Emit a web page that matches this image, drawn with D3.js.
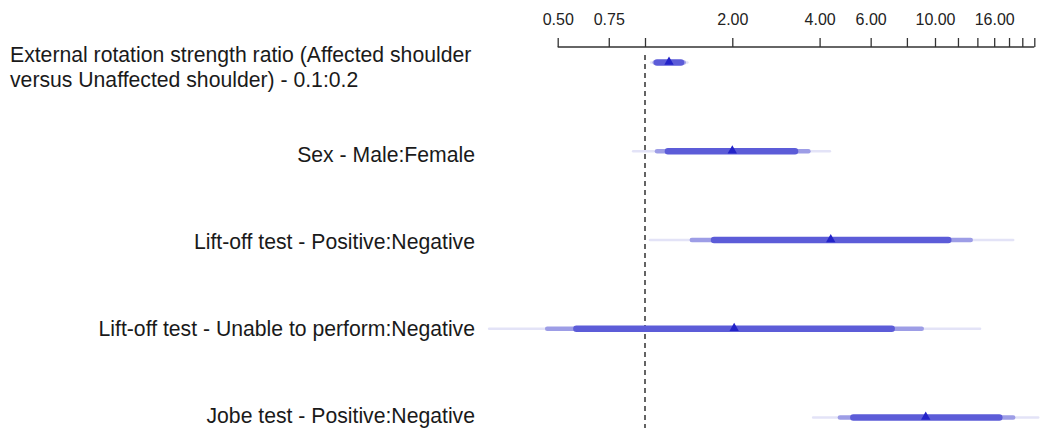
<!DOCTYPE html>
<html>
<head>
<meta charset="utf-8">
<script src="https://cdn.jsdelivr.net/npm/d3@7"></script>
<style>
  html, body { margin: 0; padding: 0; background: #fff; }
  svg { display: block; font-family: "Liberation Sans", Arial, Helvetica, sans-serif; }
</style>
</head>
<body>
<svg id="chart" width="1045" height="428"></svg>
<script>
// Effect estimates (odds ratios) with nested confidence intervals
const labels = [
  ["External rotation strength ratio (Affected shoulder", "versus Unaffected shoulder) - 0.1:0.2"],
  ["Sex - Male:Female"],
  ["Lift-off test - Positive:Negative"],
  ["Lift-off test - Unable to perform:Negative"],
  ["Jobe test - Positive:Negative"]
];
const estimate = [1.21, 2.00, 4.37, 2.03, 9.29];
const lower90 = [1.10, 1.20, 1.73, 0.58, 5.23];
const upper90 = [1.33, 3.29, 11.11, 7.09, 16.66];
const lower95 = [1.08, 1.10, 1.45, 0.46, 4.70];
const upper95 = [1.36, 3.66, 13.28, 9.00, 18.60];
const lower99 = [1.05, 0.91, 1.04, 0.29, 3.80];
const upper99 = [1.40, 4.34, 18.60, 14.30, 22.70];

const tickValues = [0.5, 0.75, 1, 2, 4, 6, 8, 10, 12, 14, 16, 18, 20, 22];
const labelledTicks = [0.5, 0.75, 2, 4, 6, 10, 16];

const svg = d3.select("#chart");

const x = d3.scaleLog().domain([0.5, 22]).range([557.7, 1034.3]);
const y = d3.scalePoint().domain(d3.range(labels.length)).range([62.5, 417.5]);
// Label baselines for the single-line rows
const labelY = d3.scaleLinear().domain([1, 4]).range([161.5, 422.5]);

// Top axis
const axisY = 47;
const axis = d3.axisTop(x)
  .tickValues(tickValues)
  .tickSize(9)
  .tickPadding(13)
  .tickFormat(d => labelledTicks.includes(d) ? d.toFixed(2) : "");
const gAxis = svg.append("g").attr("transform", `translate(0,${axisY})`).call(axis);
gAxis.select(".domain").attr("d", `M${x(0.5)},0H${x(22)}`).attr("stroke", "#333").attr("stroke-width", 1.3);
gAxis.selectAll(".tick line").attr("stroke", "#333").attr("stroke-width", 1.3);
gAxis.selectAll(".tick text")
  .attr("fill", "#222")
  .style("font-size", "16px")
  .style("font-family", "'Liberation Sans', Arial, sans-serif");

// Reference line at odds ratio 1
svg.append("line")
  .attr("x1", x(1)).attr("x2", x(1))
  .attr("y1", 55).attr("y2", 428)
  .attr("stroke", "#111")
  .attr("stroke-width", 1.3)
  .attr("stroke-dasharray", "5,4");

// Interval bars, widest interval drawn first
const bands = [
  { lo: lower99, hi: upper99, color: "#e3e3f7", width: 2.5 },
  { lo: lower95, hi: upper95, color: "#9d9de6", width: 4.5 },
  { lo: lower90, hi: upper90, color: "#5c5cd8", width: 6.5 }
];
bands.forEach(b => {
  svg.append("g").selectAll("line")
    .data(d3.range(labels.length))
    .join("line")
    .attr("x1", i => x(b.lo[i]))
    .attr("x2", i => x(b.hi[i]))
    .attr("y1", i => y(i))
    .attr("y2", i => y(i))
    .attr("stroke", b.color)
    .attr("stroke-width", b.width)
    .attr("stroke-linecap", "round");
});

// Point estimates
const tri = d3.symbol().type(d3.symbolTriangle).size(38);
svg.append("g").selectAll("path")
  .data(d3.range(labels.length))
  .join("path")
  .attr("d", tri)
  .attr("transform", i => `translate(${x(estimate[i])},${y(i) - 0.5})`)
  .attr("fill", "#2323c8");

// Row labels
labels.forEach((lines, i) => {
  const multi = lines.length > 1;
  const t = svg.append("text")
    .attr("fill", "#1a1a1a")
    .style("font-size", "21.2px")
    .attr("text-anchor", multi ? "start" : "end");
  lines.forEach((s, k) => {
    t.append("tspan")
      .attr("x", multi ? 10 : 475)
      .attr("y", multi ? 61.5 + k * 25 : labelY(i))
      .text(s);
  });
});
</script>
</body>
</html>
